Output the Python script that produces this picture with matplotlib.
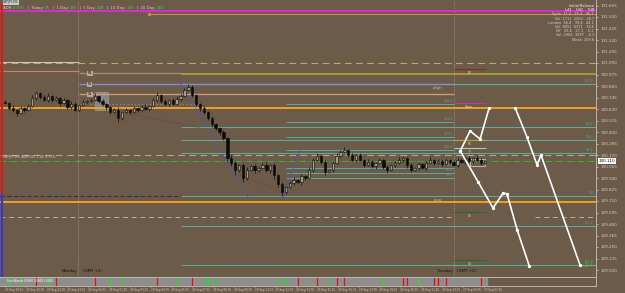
import matplotlib
matplotlib.use("Agg")
import matplotlib.pyplot as plt
import matplotlib.transforms as mtransforms
import numpy as np

# GBPJPY, 15 min bars from Fri 23 Sep 19:15 to Tue 27 Sep 01:45 (bar index = x)
first_open = 130.70
closes = [130.69, 130.64, 130.62, 130.59, 130.64, 130.62, 130.66, 130.74, 130.79, 130.75,
          130.72, 130.76, 130.72, 130.74, 130.69, 130.72, 130.65, 130.68, 130.62, 130.67,
          130.70, 130.71, 130.72, 130.76, 130.71, 130.68, 130.65, 130.60, 130.62, 130.54,
          130.60, 130.62, 130.60, 130.64, 130.62, 130.65, 130.63, 130.66, 130.72, 130.77,
          130.71, 130.68, 130.72, 130.68, 130.73, 130.76, 130.82, 130.85, 130.77, 130.68,
          130.64, 130.60, 130.54, 130.48, 130.44, 130.40, 130.34, 130.14, 130.09, 130.02,
          130.07, 129.94, 130.02, 130.06, 130.02, 130.04, 130.07, 130.02, 130.07, 129.97,
          129.88, 129.80, 129.85, 129.89, 129.92, 129.90, 129.96, 129.94, 130.02, 130.12,
          130.16, 130.10, 130.00, 130.02, 130.09, 130.16, 130.20, 130.22, 130.17, 130.12,
          130.17, 130.12, 130.07, 130.10, 130.06, 130.09, 130.12, 130.05, 130.02, 130.07,
          130.09, 130.12, 130.14, 130.07, 130.02, 130.04, 130.08, 130.04, 130.09, 130.12,
          130.09, 130.11, 130.08, 130.12, 130.10, 130.07, 130.12, 130.10, 130.14, 130.11,
          130.14, 130.12, 130.09, 130.11]
# wick lengths in pips
wick_up = [2, 1, 3, 1, 2, 1, 2, 3, 2, 1, 2, 3, 1, 2, 1, 2, 1, 3, 2, 1,
           2, 1, 2, 3, 1, 2, 1, 1, 2, 3, 1, 2, 1, 2, 1, 2, 3, 1, 2, 3,
           1, 2, 1, 2, 3, 2, 2, 3, 2, 1, 1, 2, 1, 2, 1, 1, 2, 1, 3, 2,
           1, 2, 3, 1, 2, 1, 2, 3, 1, 2, 1, 2, 1, 2, 3, 1, 2, 1, 3, 2,
           3, 1, 2, 1, 2, 3, 2, 3, 1, 2, 1, 2, 1, 3, 2, 1, 2, 1, 2, 1,
           2, 3, 2, 1, 2, 1, 2, 1, 2, 3, 1, 2, 1, 2, 1, 2, 3, 2, 1, 2,
           1, 3, 2, 1]
wick_dn = [1, 2, 2, 3, 1, 2, 1, 1, 2, 2, 1, 2, 2, 1, 3, 1, 2, 2, 1, 2,
           1, 2, 1, 1, 2, 2, 3, 2, 1, 4, 2, 1, 2, 1, 2, 1, 1, 2, 1, 2,
           2, 1, 2, 1, 1, 2, 1, 1, 2, 2, 3, 2, 2, 3, 2, 3, 2, 4, 3, 5,
           2, 4, 2, 1, 3, 2, 1, 2, 3, 4, 3, 4, 2, 1, 2, 1, 3, 2, 1, 2,
           1, 2, 3, 1, 2, 1, 2, 1, 2, 1, 2, 1, 2, 1, 2, 3, 1, 2, 3, 1,
           2, 1, 2, 3, 2, 1, 2, 1, 2, 1, 2, 1, 2, 1, 2, 1, 2, 1, 2, 1,
           2, 1, 2, 1]
pip = 0.01

price_ticks = [131.665, 131.550, 131.435, 131.320, 131.205, 131.090, 130.975, 130.860,
               130.745, 130.630, 130.515, 130.400, 130.285, 130.170, 130.055, 129.940,
               129.825, 129.710, 129.595, 129.480, 129.365, 129.250, 129.135, 129.020]
time_labels = ["23 Sep 19:15", "23 Sep 20:35", "23 Sep 21:55", "23 Sep 23:15",
               "26 Sep 00:35", "26 Sep 01:55", "26 Sep 03:15", "26 Sep 04:35",
               "26 Sep 05:55", "26 Sep 07:15", "26 Sep 08:35", "26 Sep 09:55",
               "26 Sep 11:15", "26 Sep 12:35", "26 Sep 13:55", "26 Sep 15:15",
               "26 Sep 16:35", "26 Sep 17:55", "26 Sep 19:15", "26 Sep 20:35",
               "26 Sep 21:55", "26 Sep 23:15", "27 Sep 00:35", "27 Sep 01:55"]
stoch_red = [8, 13, 23, 39, 48, 75, 80, 85, 87, 102, 103, 110, 111, 113, 122]
stoch_green = [1, 4, 11, 27, 30, 44, 51, 52, 54, 70, 72, 83, 97, 106]

mon_start = 19
tue_start = 115
week_anchor = 37
fib1_anchor = 45
fib2_anchor = 72

magenta_level = 131.61
weekly_level = 131.58
khaki_levels = [131.09, 130.17]
orange_levels = [130.64, 129.70]
olive_level = 130.98
green_level = 130.11
navy_level = 129.76
gray_level = 129.55
fri_levels = [131.10, 131.01]
mon_levels = [130.99, 130.88, 130.78, 130.68]
mon_labels = ["R1", "P1", "S1", ""]
tue_levels = [131.03, 130.69, 130.32, 130.24, 129.60, 129.12]
tue_labels = ["R2", "Open", "R1", "P", "S1", "S2"]

fib1_high, fib1_low = 130.88, 129.76
fib1_ratios = [1.0, 0.618, 0.5, 0.382, 0.0, -0.272, -0.618]
fib2_low, fib2_high = 129.76, 130.22
fib2_ratios = [2.0, 1.618, 1.272, 1.0, 0.618, 0.5, 0.382]

proj_up_x = [116.7, 119.2, 121.8, 124.1]
proj_up_y = [130.21, 130.41, 130.33, 130.64]
proj_dn_x = [116.7, 121.3, 125.1, 127.7, 128.7, 131.3, 134.4]
proj_dn_y = [130.21, 129.90, 129.64, 129.79, 129.78, 129.42, 129.06]
proj_far_x = [130.8, 133.8, 136.4, 137.4, 147.4]
proj_far_y = [130.64, 130.35, 130.07, 130.17, 129.07]

trend_x = [[44.9, 62.3], [71.3, 75.6]]
trend_y = [[130.89, 129.75], [129.75, 130.22]]
dotted_x = [[31.3, 50.0], [60.3, 71.3]]
dotted_y = [[130.59, 130.44], [129.97, 129.79]]

table_rows = ["Initial Balance", "L41    H41    %IB", "Sydn  21.4   25.4   36.7",
              "Vol  1711  2552  -38.7", "London  56.8   39.4   44.1",
              "Vol  6851  6371   34.6", "NY   26.6   27.1   -5.1",
              "Vol  2964  3097   -4.3", "Week: 259.6"]

bg = '#6b5b48'
teal = '#5fa89c'
light = '#d8d0c8'

xmin, xmax = -1.28, 151.5
fig = plt.figure(figsize=(6.25, 2.93), dpi=100, facecolor=bg)
ax = fig.add_axes([0, 16 / 293, 596 / 625, 277 / 293], facecolor=bg)
ax2 = fig.add_axes([0, 7 / 293, 596 / 625, 9 / 293], facecolor=bg)
ax.set_xlim(xmin, xmax)
ax.set_ylim(128.95, 131.72)
ax2.set_xlim(xmin, xmax)
ax2.set_ylim(0, 1)

# day separators
for d in [mon_start - 0.3, tue_start + 0.1]:
    ax.axvline(d, color='#a89a88', lw=0.6, ls=(0, (1, 1.5)))

# horizontal levels
ax.axhline(magenta_level, color='#e028d8', lw=1.4)
ax.hlines(weekly_level, week_anchor, xmax, color='#c88a48', lw=0.8)
ax.plot(week_anchor, weekly_level, 's', ms=1.5, color='#c88a48')
for lv in khaki_levels:
    ax.axhline(lv, color='#b8aa78', lw=0.8, ls=(0, (6, 4)))
for lv in orange_levels:
    ax.axhline(lv, color='#f0a020', lw=1.4)
ax.hlines(olive_level, fib1_anchor, xmax, color='#b4a42c', lw=1.2)
ax.axhline(green_level, color='#3cb43c', lw=0.7, ls=(0, (6, 2, 1, 2)))
ax.hlines(navy_level, xmin, tue_start, color='#2c2c78', lw=0.8, ls=(0, (4, 2)))
ax.hlines(gray_level, xmin, tue_start, color='#b8b0a8', lw=0.7, ls=(0, (5, 4)))
ax.hlines(gray_level, 135.9, xmax, color='#b8b0a8', lw=0.7, ls=(0, (5, 4)))
ax.hlines(fri_levels[0], xmin, mon_start, color='#d8c0b0', lw=0.8)
ax.hlines(fri_levels[1], xmin, mon_start, color='#c08868', lw=0.8)

# fib retracement from the Monday high
for r in fib1_ratios:
    lv = fib1_low + r * (fib1_high - fib1_low)
    ax.hlines(lv, fib1_anchor, xmax, color=teal, lw=0.8)
    ax.text(150.9, lv + 0.012, "%.1f" % (r * 100), color=teal, fontsize=2.4,
            ha='right', va='bottom')
# fib extension from the Monday low
for r in fib2_ratios:
    lv = fib2_low + r * (fib2_high - fib2_low)
    ax.hlines(lv, fib2_anchor, tue_start, color=teal, lw=0.7)
    ax.text(114.8, lv + 0.01, "%.1f" % (r * 100), color=teal, fontsize=2.3,
            ha='right', va='bottom')

# monday pivots
mon_colors = ['#b08868', '#8a88d8', '#d09878', '#6c88c8']
mon_ends = [fib1_anchor, tue_start, tue_start, 50]
mon_styles = ['-', '-', '-', ':']
for lv, lab, c, e, s in zip(mon_levels, mon_labels, mon_colors, mon_ends, mon_styles):
    ax.hlines(lv, mon_start, e, color=c, lw=1.0, ls=s)
    if lab:
        ax.text(mon_start + 2.2, lv, lab, color='#101010', fontsize=2.4, va='center',
                bbox=dict(boxstyle='square,pad=0.15', fc='#b8a898', ec='none'))
ax.hlines(mon_levels[1], tue_start, xmax, color=teal, lw=0.8)
ax.text(tue_start - 3, mon_levels[1] - 0.02, "pHigh", color='#c8c0b8', fontsize=2.3,
        ha='right', va='top')
ax.text(tue_start - 3, navy_level - 0.015, "pLow", color='#c8c0b8', fontsize=2.3,
        ha='right', va='top')

# tuesday pivots
tue_colors = ['#8a2a24', '#d030b0', '#b4a42c', '#c8c0b8', '#2c6c24', '#2c6c24']
for lv, lab, c in zip(tue_levels, tue_labels, tue_colors):
    ax.hlines(lv, tue_start, tue_start + 8.3, color=c, lw=0.8)
    ax.text(tue_start + 4, lv - 0.02, lab, color='#e0d8d0', fontsize=2.2,
            ha='center', va='top')

# trend lines
for xs, ys in zip(trend_x, trend_y):
    ax.plot(xs, ys, color='#4858d8', lw=0.7, ls=(0, (3, 2)))
for xs, ys in zip(dotted_x, dotted_y):
    ax.plot(xs, ys, color='#8a3030', lw=0.6, ls=(0, (1, 1.5)))

# boxes
ax.add_patch(plt.Rectangle((23.1, 130.62), 3.3, 0.18, fc='#a8c0d8', ec='#c8d8e8',
                           alpha=0.45, lw=0.5))
ax.add_patch(plt.Rectangle((119.2, 130.06), 3.9, 0.07, fc='none', ec='#c8c8c8', lw=0.6))

# candles
opens = [first_open] + closes[:-1]
xs = np.arange(len(closes))
o = np.array(opens)
c = np.array(closes)
hi = np.maximum(o, c) + np.array(wick_up) * pip
lo = np.minimum(o, c) - np.array(wick_dn) * pip
ax.vlines(xs, lo, hi, color='#0c0c0c', lw=0.5, zorder=5)
body = np.maximum(np.abs(c - o), 0.006)
up = c >= o
ax.bar(xs[up], body[up], bottom=np.minimum(o, c)[up], width=0.6, color='#a89888',
       edgecolor='#0c0c0c', lw=0.4, zorder=6)
ax.bar(xs[~up], body[~up], bottom=np.minimum(o, c)[~up], width=0.6, color='#0c0c0c',
       edgecolor='#0c0c0c', lw=0.4, zorder=6)

# projections
for px_, py_ in [(proj_up_x, proj_up_y), (proj_dn_x, proj_dn_y), (proj_far_x, proj_far_y)]:
    ax.plot(px_, py_, color='white', lw=1.2, marker='o', ms=1.4, zorder=7)
ax.text(147.8, 129.07, "+2.4", color='#30d040', fontsize=3.4, va='center', ha='left')

# left edge bars
ax.plot([-0.75, -0.75], [131.67, 129.77], color='#e01818', lw=1.6)
ax.plot([-0.75, -0.75], [129.77, 128.95], color='#3838c8', lw=1.6)

# current price
trans = mtransforms.blended_transform_factory(ax.transAxes, ax.transData)
ax.text(1.004, closes[-1], "%.3f" % closes[-1], transform=trans, fontsize=3.0,
        color='black', va='center', ha='left',
        bbox=dict(boxstyle='square,pad=0.15', fc='white', ec='none'))

# texts
ax.text(0.004, green_level + 0.02, "GBPJPY,M5 ADR(20) 1.46 0.75%", color=light,
        fontsize=2.4, transform=trans, va='bottom')
tday = mtransforms.blended_transform_factory(ax.transData, ax.transAxes)
ax.text(mon_start - 0.5, 0.018, "Monday", fontsize=2.8, color='#101010', ha='right', transform=tday)
ax.text(mon_start + 1, 0.018, "(GMT +3)", fontsize=2.8, color='#101010', transform=tday)
ax.text(tue_start - 0.2, 0.018, "Tuesday", fontsize=2.8, color='#101010', ha='right', transform=tday)
ax.text(tue_start + 0.8, 0.018, "(GMT +3)", fontsize=2.8, color='#101010', transform=tday)

header = [("ADR ", light), ("0.75%", '#30e040'), ("  |  Today: ", light), ("75", '#30e040'),
          ("  |  1 Day: ", light), ("156", '#30e040'), ("  |  5 Day: ", light), ("208", '#30e040'),
          ("  |  10 Day: ", light), ("176", '#30e040'), ("  |  20 Day: ", light), ("182", '#30e040')]
fig.canvas.draw()
xpos = 3 / 625
for txt, col in header:
    t = fig.text(xpos, 1 - 8 / 293, txt, fontsize=2.8, color=col, va='center')
    bb = t.get_window_extent()
    xpos += bb.width / 625
fig.text(3 / 625, 1 - 2.5 / 293, "GBPJPY,M5", fontsize=2.2, color='#303030', va='center',
         bbox=dict(boxstyle='square,pad=0.1', fc='#c8c8c8', ec='none'))

for i, row in enumerate(table_rows):
    fig.text(594 / 625, 1 - (6 + 4.2 * i) / 293, row, fontsize=2.5, ha='right', va='center',
             color='white' if i < 2 else light)

# price axis
ax.yaxis.tick_right()
ax.set_yticks(price_ticks)
ax.set_yticklabels(["%.3f" % p for p in price_ticks])
ax.tick_params(axis='y', colors=light, labelsize=3.0, length=1.5, width=0.5, pad=1.5)
ax.set_xticks([])
for s in ['left', 'top']:
    ax.spines[s].set_visible(False)
ax.spines['right'].set_color('#c8c0b8')
ax.spines['bottom'].set_color('#c8c0b8')
ax.spines['right'].set_linewidth(0.6)
ax.spines['bottom'].set_linewidth(0.6)

# indicator strip
ax2.axvspan(xmin, len(closes) - 0.4, color='#8e8e8e')
ax2.vlines(stoch_red, 0.05, 0.95, color='#e01010', lw=0.9)
ax2.vlines(stoch_green, 0.05, 0.95, color='#20e020', lw=0.9)
ax2.text(0.5, 0.5, "StochBands 0.0000 0.0000 1.0000", color='white', fontsize=2.0, va='center')
ax2.set_yticks([])
ax2.set_xticks(np.arange(len(time_labels)) * 16 / 3)
ax2.set_xticklabels(time_labels, ha='left')
ax2.tick_params(axis='x', colors=light, labelsize=2.0, length=1.0, width=0.4, pad=0.4)
for s in ['left']:
    ax2.spines[s].set_visible(False)
for s in ['top', 'bottom', 'right']:
    ax2.spines[s].set_color('#c8c0b8')
    ax2.spines[s].set_linewidth(0.6)

fig.savefig("out.png", dpi=100, facecolor=bg)
